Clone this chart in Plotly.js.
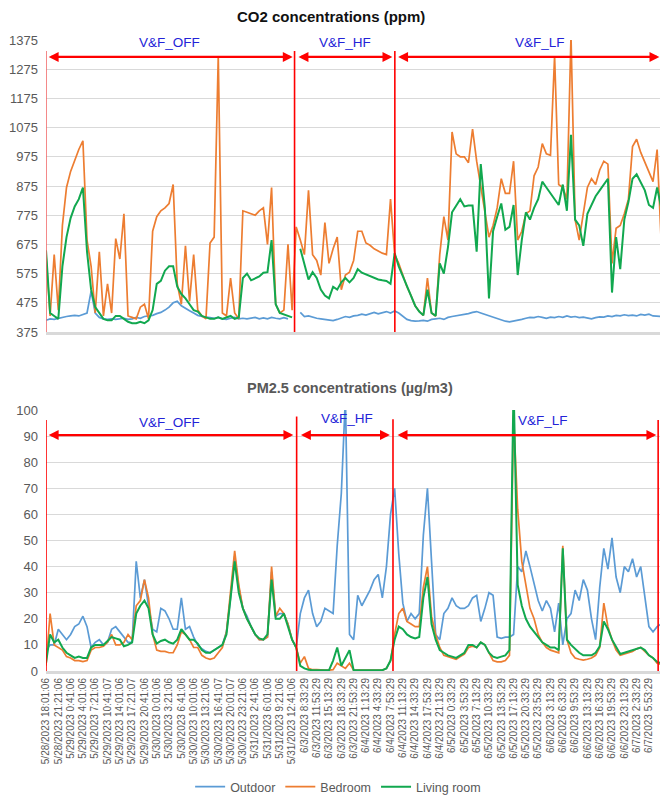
<!DOCTYPE html>
<html>
<head>
<meta charset="utf-8">
<script src="https://cdn.plot.ly/plotly-3.0.1.min.js"></script>
<style>html,body{margin:0;padding:0;background:#fff;}#chart{width:663px;height:795px;}</style>
</head>
<body>
<div id="chart"></div>
<script>
// Tick labels (category labels shown along the time axis)
const TICK_LABELS = [
  "5/28/2023 18:01:06","5/28/2023 21:21:06","5/29/2023 0:41:06","5/29/2023 4:01:06","5/29/2023 7:21:06",
  "5/29/2023 10:41:07","5/29/2023 14:01:06","5/29/2023 17:21:07","5/29/2023 20:41:06","5/30/2023 0:01:06",
  "5/30/2023 3:21:06","5/30/2023 6:41:06","5/30/2023 10:01:06","5/30/2023 13:21:06","5/30/2023 16:41:07",
  "5/30/2023 20:01:07","5/30/2023 23:21:06","5/31/2023 2:41:06","5/31/2023 6:01:06","5/31/2023 9:21:06",
  "5/31/2023 12:41:06","6/3/2023 8:33:29","6/3/2023 11:53:29","6/3/2023 15:13:29","6/3/2023 18:33:29",
  "6/3/2023 21:53:29","6/4/2023 1:13:29","6/4/2023 4:33:29","6/4/2023 7:53:29","6/4/2023 11:13:29",
  "6/4/2023 14:33:29","6/4/2023 17:53:29","6/4/2023 21:13:29","6/5/2023 0:33:29","6/5/2023 3:53:29",
  "6/5/2023 7:13:29","6/5/2023 10:33:29","6/5/2023 13:53:29","6/5/2023 17:13:29","6/5/2023 20:33:29",
  "6/5/2023 23:53:29","6/6/2023 3:13:29","6/6/2023 6:33:29","6/6/2023 9:53:29","6/6/2023 13:13:29",
  "6/6/2023 16:33:29","6/6/2023 19:53:29","6/6/2023 23:13:29","6/7/2023 2:33:29","6/7/2023 5:53:29"
];
const SERIES_NAMES = ["Outdoor", "Bedroom", "Living room"];
const PHASES = ["V&F_OFF", "V&F_HF", "V&F_LF"];
// Phase boundaries, in tick-label units
const PHASE_BOUNDS_CO2 = [0, 20.2, 28.35];
const PHASE_BOUNDS_PM = [0, 20.37, 28.2, 49.75];

// CO2 (ppm), three samples per tick-label interval
const CO2_OUTDOOR = [
 415,420,418,422,425,428,430,432,430,435,
 440,515,440,425,420,418,420,418,420,422,
 418,420,425,422,428,430,432,438,442,450,
 460,475,480,465,455,448,440,432,428,425,
 424,422,425,420,418,422,425,420,422,420,
 422,425,420,423,420,425,422,420,424,420,
 null,null,442,428,430,425,422,420,418,415,
 414,418,422,428,425,430,432,436,433,438,
 442,437,440,445,440,447,440,428,418,414,
 412,413,415,412,418,420,422,418,425,428,
 430,433,436,438,442,445,440,435,430,425,
 420,415,412,410,412,415,418,422,425,424,
 428,425,422,426,424,428,425,430,426,428,
 424,426,423,420,424,427,426,430,428,432,
 430,434,431,433,430,435,433,436,430,428,428
];
const CO2_BEDROOM = [
 640,430,640,450,740,870,925,965,1000,1030,
 690,600,440,650,430,540,440,695,625,780,
 430,425,420,460,470,420,720,770,790,800,
 815,880,540,470,670,480,640,450,430,420,
 680,700,1320,440,430,560,440,420,790,785,
 780,775,790,800,675,870,470,440,450,675,
 450,735,690,640,860,640,620,570,750,610,
 660,700,520,570,580,620,720,720,680,672,
 660,652,645,640,830,640,610,570,530,500,
 465,445,432,560,440,430,640,770,690,1060,
 985,975,975,955,1070,960,870,775,700,740,
 800,900,850,850,960,690,720,780,790,910,
 940,1020,985,980,1320,880,870,830,1390,760,
 690,780,870,900,880,930,960,950,610,730,
 740,780,830,1010,1035,990,955,925,890,1000,680
];
const CO2_LIVING = [
 655,440,430,420,600,700,765,805,830,870,
 650,520,460,440,420,415,415,430,430,420,
 410,405,405,410,405,415,450,540,550,585,
 600,600,530,505,490,470,450,445,430,425,
 420,420,425,420,425,430,420,425,560,575,
 552,558,565,578,580,690,470,440,435,430,
 425,null,660,610,555,580,560,520,500,490,
 530,520,545,560,545,560,590,578,572,565,
 560,555,552,550,540,645,600,565,530,495,
 465,445,432,520,440,430,610,575,665,785,
 810,830,805,808,808,650,950,800,490,720,
 770,815,725,735,810,570,690,785,760,800,
 830,890,870,850,830,810,880,790,1050,760,
 740,670,780,810,840,860,880,900,510,700,
 590,760,820,900,915,890,860,810,800,870,800
];

// PM2.5 (µg/m3)
const PM_OUTDOOR = [
 8,10,10,16,14,12,14,17,18,21,
 17,9,11,12,10,11,16,17,15,13,
 11,11,42,28,35,25,16,15,24,23,
 20,16,16,28,16,17,13,10,8.5,7.5,
 7,8,9,10,15,28,44,32,24,21,
 17,14,12,12,13,38,21,22,22,18,
 12,9,22,28,31,22,17,19,24,23,
 22,48,68,105,14,12,29,25,28,31,
 35,37,28,40,60,70,45,26,19,22,
 20,22,52,70,42,14,12,22,24,28,
 25,24,24,25,28,29,19,24,30,29,
 13,12.5,13,13,14,40,38,46,40,33,
 27,23,27,24,15,26,10,20,22,31,
 27,35,31,20,12,32,47,39,51,36,
 30,40,38,43,36,40,28,17,15,17,18
];
const PM_BEDROOM = [
 2,22,10,9,8,5.5,5,4,4,3.6,
 4,8,9,9,9.5,11,14,10,10,11,
 14,12,25,27,35,28,14,8,7.5,7.5,
 7,7,10,15,14,12,9,9,6,5,
 4.5,5,7,9,15,30,46,33,24,20,
 17,14,12,12,13,40,21,24,22,18,
 12,9,3,5.5,1,0.5,0.5,0.3,0.3,0.3,
 0.5,3,2,1,3,0.3,0.3,0.3,0.3,0.3,
 0.3,0.3,0.3,1,4,14,22,24,19,18,
 17,17,32,40,21,14,9,6,5.5,5,
 4.5,5.5,6.5,9,9.5,9,11,10,7,4,
 3.5,3.5,4,6,98,62,42,33,24,20,
 14,11,9,8,7.5,7,48,12,7,5,
 4.5,4.2,4.5,5,6,9,26,17,12,8,
 6,6.5,7,7.5,8.5,9,7.5,6,5,3,2.5
];
const PM_LIVING = [
 3,14,11,12,9,7,6,5,5.5,5,
 5,9,10,10,10,11.5,13,12.5,12,9.5,
 10,11,22,25,27,24,14,10.5,11.5,12,
 11,10.5,12,16,14,12,12,10.5,8,7,
 7,8,9,10,14,27,42,30,24,20,
 17,14,12.5,12,14,35,20,20,22,17,
 12,9,2,1,0.5,0.3,0.3,0.3,0.3,0.3,
 4,9,2,5,8,0.3,0.3,0.3,0.3,0.3,
 0.3,0.3,0.3,1,4,12,17,16,14,13,
 12.5,13,28,36,18,12,8,7,6,5.5,
 5,6,7,10,10,9,11,10,7,5.5,
 5,5.5,6,8,110,33,25,20,17,15,
 13,11,10,9,9,8,47,12,10,8.5,
 7,6,6,6,7,9.5,19,16,12,9.5,
 6.5,7,7.5,8,8.5,9,8,6,5,3.5,3
];

const COLORS = ["#5B9BD5", "#ED7D31", "#11A84F"];
const FONT = "Liberation Sans, Arial, sans-serif";
const xPos = CO2_OUTDOOR.map((_, i) => i / 3);

function tr(y, k, xa, ya, legend) {
  return {x: xPos, y: y, type: "scatter", mode: "lines", name: SERIES_NAMES[k],
    xaxis: xa, yaxis: ya, showlegend: legend, connectgaps: false,
    line: {color: COLORS[k], width: k === 2 ? 2 : 1.7}, hoverinfo: "skip"};
}
const data = [
  tr(CO2_OUTDOOR, 0, "x", "y", false),
  tr(CO2_BEDROOM, 1, "x", "y", false),
  tr(CO2_LIVING, 2, "x", "y", false),
  tr(PM_OUTDOOR, 0, "x2", "y2", true),
  tr(PM_BEDROOM, 1, "x2", "y2", true),
  tr(PM_LIVING, 2, "x2", "y2", true)
];

const RED = "#FF0000";
const shapes = [];
function vline(xr, yr, x, y0, y1, col) {
  shapes.push({type: "line", xref: xr, yref: yr, x0: x, x1: x, y0: y0, y1: y1,
    line: {color: col || RED, width: 1.6}});
}
vline("x", "y", PHASE_BOUNDS_CO2[0], 375, 1337, "#F26B6B");
vline("x", "y", PHASE_BOUNDS_CO2[1], 375, 1337);
vline("x", "y", PHASE_BOUNDS_CO2[2], 375, 1337);
vline("x2", "y2", PHASE_BOUNDS_PM[0], 0, 96.2);
vline("x2", "y2", PHASE_BOUNDS_PM[1], 0, 97.5);
vline("x2", "y2", PHASE_BOUNDS_PM[2], 0, 96.5);
vline("x2", "y2", PHASE_BOUNDS_PM[3], 0, 96.2);

const annotations = [];
function arrow(xr, yr, x0, x1, y) {
  annotations.push({xref: xr, yref: yr, axref: xr, ayref: yr, x: x1, y: y, ax: x0, ay: y,
    text: "", showarrow: true, arrowside: "end+start", arrowhead: 2, startarrowhead: 2,
    arrowsize: 0.9, startarrowsize: 0.9, arrowwidth: 2.2, arrowcolor: RED});
}
function label(xr, yr, x, y, t) {
  annotations.push({xref: xr, yref: yr, x: x, y: y, text: t, showarrow: false,
    xanchor: "center", yanchor: "middle", font: {family: FONT, size: 13.5, color: "#2323D8"}});
}
arrow("x", "y", 0.1, 20.05, 1317);
arrow("x", "y", 20.4, 28.15, 1317);
arrow("x", "y", 28.5, 49.85, 1317);
arrow("x2", "y2", 0.1, 20.1, 90.4);
arrow("x2", "y2", 20.6, 27.95, 90.4);
arrow("x2", "y2", 28.45, 49.6, 90.4);
label("x", "y", 10.05, 1365, PHASES[0]);
label("x", "y", 24.27, 1368, PHASES[1]);
label("x", "y", 40.14, 1368, PHASES[2]);
label("x2", "y2", 10.05, 95.4, PHASES[0]);
label("x2", "y2", 24.5, 96.6, PHASES[1]);
label("x2", "y2", 40.4, 95.8, PHASES[2]);
annotations.push({xref: "paper", yref: "paper", x: 0.464, y: 1 - 17/795, text: "<b>CO2 concentrations (ppm)</b>",
  showarrow: false, xanchor: "center", yanchor: "middle", font: {family: FONT, size: 15, color: "#111111"}});
annotations.push({xref: "paper", yref: "paper", x: 0.495, y: 1 - 388/795, text: "<b>PM2.5 concentrations (µg/m3)</b>",
  showarrow: false, xanchor: "center", yanchor: "middle", font: {family: FONT, size: 14.5, color: "#595959"}});

const tickVals = TICK_LABELS.map((_, i) => i);
const co2Ticks = [375, 475, 575, 675, 775, 875, 975, 1075, 1175, 1275, 1375];
const pmTicks = [0, 10, 20, 30, 40, 50, 60, 70, 80, 90, 100];

const xBase = {range: [0, 49.9], showgrid: false, zeroline: false, showline: true,
  linecolor: "#D9D9D9", linewidth: 3, ticks: "", automargin: false, fixedrange: true};
const yBase = {showgrid: true, gridcolor: "#D9D9D9", gridwidth: 1, zeroline: false, showline: false,
  ticks: "", automargin: false, ticklabelstandoff: 7,
  tickfont: {family: FONT, size: 13, color: "#595959"}};

const layout = {
  width: 663, height: 795,
  margin: {l: 46, r: 3, t: 0, b: 0, autoexpand: false},
  paper_bgcolor: "#FFFFFF", plot_bgcolor: "#FFFFFF",
  font: {family: FONT},
  showlegend: true,
  legend: {orientation: "h", xref: "container", yref: "container", x: 0.51, xanchor: "center",
    y: 8/795, yanchor: "middle",
    font: {family: FONT, size: 12.5, color: "#595959"}, traceorder: "normal"},
  xaxis: Object.assign({}, xBase, {anchor: "y", domain: [0, 1], showticklabels: false}),
  yaxis: Object.assign({}, yBase, {anchor: "x", domain: [1 - 332/795, 1 - 40/795],
    range: [375, 1375], tickvals: co2Ticks}),
  xaxis2: Object.assign({}, xBase, {anchor: "y2", domain: [0, 1], tickvals: tickVals, ticktext: TICK_LABELS,
    tickangle: -90, tickfont: {family: FONT, size: 10, color: "#595959"}}),
  yaxis2: Object.assign({}, yBase, {anchor: "x2", domain: [1 - 671/795, 1 - 410/795],
    range: [0, 100], tickvals: pmTicks}),
  shapes: shapes,
  annotations: annotations
};

Plotly.newPlot("chart", data, layout, {displayModeBar: false, staticPlot: true});
</script>
</body>
</html>
